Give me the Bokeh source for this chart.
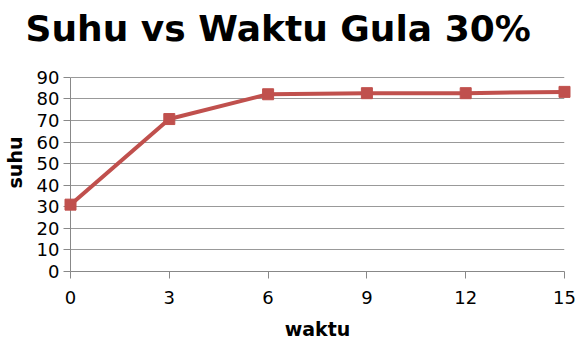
from bokeh.plotting import figure
from bokeh.models import FixedTicker, Range1d
from bokeh.embed import file_html
from bokeh.resources import INLINE

waktu = [0, 3, 6, 9, 12, 15]
suhu = [31, 70.7, 82.2, 82.7, 82.7, 83.3]
x_ticks = [0, 3, 6, 9, 12, 15]
y_ticks = [0, 10, 20, 30, 40, 50, 60, 70, 80, 90]

p = figure(width=578, height=342, output_backend="svg", toolbar_location=None,
           x_range=Range1d(0, 15), y_range=Range1d(0, 101.1),
           title="Suhu vs Waktu Gula 30%",
           min_border_left=69, min_border_right=14, min_border_top=52, min_border_bottom=71)
p.outline_line_color = None
p.background_fill_color = "white"
p.border_fill_color = "white"

p.title.text_font = "DejaVu Sans"
p.title.text_font_size = "36px"
p.title.text_font_style = "bold"
p.title.text_color = "black"
p.title.align = "left"
p.title.offset = -45
p.title.standoff = 10

p.line(waktu, suhu, line_color="#C0504D", line_width=4, level="overlay")
p.scatter(waktu, suhu, marker="square", size=11, fill_color="#C0504D",
          line_color="#C0504D", level="overlay")

for ax in (p.xaxis[0], p.yaxis[0]):
    ax.axis_line_color = "#888888"
    ax.major_tick_line_color = "#888888"
    ax.major_tick_out = 7
    ax.major_tick_in = 0
    ax.minor_tick_line_color = None
    ax.major_label_text_font = "DejaVu Sans"
    ax.major_label_text_font_size = "18px"
    ax.major_label_text_color = "black"
    ax.axis_label_text_font = "DejaVu Sans"
    ax.axis_label_text_font_size = "19px"
    ax.axis_label_text_font_style = "bold"
    ax.axis_label_text_color = "black"

p.xaxis.ticker = FixedTicker(ticks=x_ticks)
p.yaxis.ticker = FixedTicker(ticks=y_ticks)
p.yaxis.bounds = (y_ticks[0], y_ticks[-1])
p.yaxis.axis_label = "suhu"
p.xaxis.axis_label = "waktu"
p.yaxis.axis_label_standoff = 8
p.xaxis.major_label_standoff = 12
p.xaxis.axis_label_standoff = 11
p.yaxis.major_label_standoff = 4

p.xgrid.grid_line_color = None
p.ygrid.grid_line_color = "#999999"
p.ygrid.grid_line_width = 1

open("out.html", "w").write(file_html(p, INLINE))
